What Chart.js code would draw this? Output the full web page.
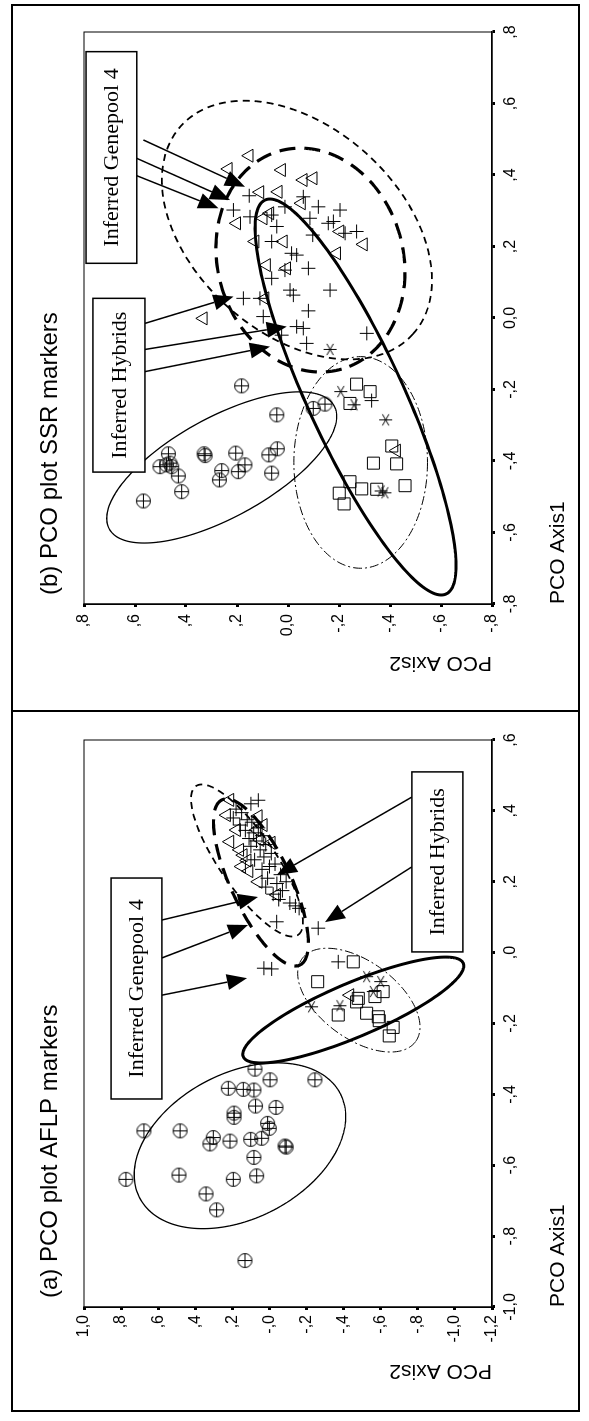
<!DOCTYPE html>
<html>
<head>
<meta charset="utf-8">
<script src="https://cdn.jsdelivr.net/npm/chart.js@4.4.0/dist/chart.umd.min.js"></script>
<style>
html, body { margin: 0; padding: 0; background: #fff; }
body { width: 589px; height: 1421px; overflow: hidden; position: relative; }
#land { position: absolute; left: 0; top: 0; width: 1421px; height: 589px;
        transform-origin: 0 0; transform: translate(0, 1421px) rotate(-90deg); background: #fff; }
.pane { position: absolute; top: 0; }
#frame { position: absolute; left: 9px; top: 11px; width: 1408px; height: 569px;
         border: 2px solid #000; box-sizing: border-box; }
#divider { position: absolute; left: 709px; top: 11px; width: 2px; height: 569px; background: #000; }
</style>
</head>
<body>
<div id="land">
  <canvas id="chartA" class="pane" style="left:0" width="710" height="589"></canvas>
  <canvas id="chartB" class="pane" style="left:710px" width="711" height="589"></canvas>
  <div id="frame"></div>
  <div id="divider"></div>
</div>
<script>
// ---- tick values and labels ----
const xTicksA = [-1.0, -0.8, -0.6, -0.4, -0.2, 0, 0.2, 0.4, 0.6];
const xLabelsA = ['-1,0', '-,8', '-,6', '-,4', '-,2', ',0', ',2', ',4', ',6'];
const yTicksA = [-1.2, -1.0, -0.8, -0.6, -0.4, -0.2, 0, 0.2, 0.4, 0.6, 0.8, 1.0];
const yLabelsA = ['-1,2', '-1,0', '-,8', '-,6', '-,4', '-,2', '-,0', ',2', ',4', ',6', ',8', '1,0'];
const xTicksB = [-0.8, -0.6, -0.4, -0.2, 0, 0.2, 0.4, 0.6, 0.8];
const xLabelsB = ['-,8', '-,6', '-,4', '-,2', '0,0', ',2', ',4', ',6', ',8'];
const yTicksB = [-0.8, -0.6, -0.4, -0.2, 0, 0.2, 0.4, 0.6, 0.8];
const yLabelsB = ['-,8', '-,6', '-,4', '-,2', '0,0', ',2', ',4', ',6', ',8'];

// ---- (a) AFLP: [PCO Axis1, PCO Axis2] ----
const aflpCircle = [[-0.329,0.078],[-0.359,-0.003],[-0.359,-0.245],[-0.383,0.222],[-0.386,0.141],[-0.388,0.084],
  [-0.433,0.075],[-0.437,-0.035],[-0.453,0.191],[-0.465,0.191],[-0.482,0.010],[-0.496,0.001],[-0.503,0.677],
  [-0.503,0.482],[-0.522,0.303],[-0.540,0.321],[-0.532,0.213],[-0.527,0.101],[-0.524,0.042],[-0.546,-0.084],
  [-0.549,-0.090],[-0.578,0.084],[-0.640,0.774],[-0.628,0.488],[-0.640,0.195],[-0.630,0.069],[-0.681,0.342],
  [-0.726,0.285],[-0.869,0.132]];
const aflpSquare = [[-0.026,-0.452],[-0.082,-0.260],[-0.110,-0.613],[-0.124,-0.569],[-0.129,-0.479],[-0.176,-0.371],
  [-0.139,-0.470],[-0.171,-0.524],[-0.181,-0.587],[-0.192,-0.592],[-0.211,-0.667],[-0.235,-0.646]];
const aflpStar = [[-0.068,-0.524],[-0.153,-0.227],[-0.150,-0.380],[-0.082,-0.600],[-0.110,-0.560]];
const aflpCross = [[0.405,0.180],[0.395,0.150],[0.380,0.195],[0.375,0.120],[0.368,0.095],[0.360,0.160],[0.352,0.060],
  [0.345,0.130],[0.338,0.085],[0.330,0.040],[0.322,0.110],[0.315,0.070],[0.305,0.020],[0.300,0.100],[0.290,0.050],
  [0.280,-0.010],[0.270,0.030],[0.262,0.080],[0.250,-0.030],[0.243,0.000],[0.235,0.040],[0.220,-0.060],[0.210,0.010],
  [0.200,-0.090],[0.195,-0.040],[0.185,0.020],[0.175,-0.070],[0.165,-0.020],[0.150,-0.050],[0.140,-0.110],
  [0.132,-0.140],[0.125,-0.160],[0.087,-0.039],[0.069,-0.263],[-0.044,0.030],[-0.046,-0.012],[-0.026,-0.371],
  [0.420,0.100],[0.430,0.060]];
const aflpTriangle = [[0.431,0.213],[0.388,0.231],[0.346,0.177],[0.313,0.213],[0.290,0.160],[0.275,0.141],[0.243,0.150],
  [0.318,0.051],[0.360,0.033],[0.310,-0.010],[0.346,0.069],[0.200,0.060],[0.163,-0.039],[0.230,0.110],[0.385,0.060],
  [0.260,0.120],[-0.120,-0.434]];

// ---- (b) SSR ----
const ssrCircle = [[-0.190,0.182],[-0.271,0.044],[-0.253,-0.099],[-0.241,-0.145],[-0.380,0.469],[-0.406,0.463],
  [-0.411,0.476],[-0.416,0.502],[-0.416,0.456],[-0.442,0.430],[-0.486,0.417],[-0.512,0.567],[-0.380,0.329],
  [-0.385,0.325],[-0.427,0.260],[-0.453,0.269],[-0.378,0.205],[-0.430,0.195],[-0.411,0.169],[-0.383,0.075],
  [-0.366,0.042],[-0.434,0.064]];
const ssrSquare = [[-0.185,-0.269],[-0.206,-0.322],[-0.239,-0.243],[-0.358,-0.407],[-0.408,-0.426],[-0.406,-0.335],
  [-0.469,-0.459],[-0.458,-0.243],[-0.478,-0.289],[-0.479,-0.348],[-0.490,-0.201],[-0.520,-0.220]];
const ssrStar = [[-0.088,-0.165],[-0.206,-0.207],[-0.243,-0.259],[-0.285,-0.383],[-0.484,-0.365],[-0.489,-0.380]];
const ssrCross = [[0.020,-0.080],[0.004,0.097],[-0.024,-0.034],[-0.029,-0.060],[-0.048,0.025],[-0.071,-0.073],
  [-0.043,-0.309],[-0.231,-0.328],[0.342,0.152],[0.302,0.214],[0.283,0.149],[0.288,0.064],[0.311,0.012],
  [0.339,-0.060],[0.311,-0.119],[0.302,-0.204],[0.265,-0.158],[0.270,-0.178],[0.279,-0.086],[0.256,0.044],
  [0.232,-0.097],[0.237,-0.224],[0.242,-0.269],[0.214,0.064],[0.181,-0.014],[0.176,-0.034],[0.139,-0.080],
  [0.134,0.012],[0.111,0.064],[0.078,-0.008],[0.064,-0.021],[0.055,0.175],[0.055,0.110],[0.078,-0.165]];
const ssrTriangle = [[0.454,0.152],[0.417,0.234],[0.414,0.025],[0.386,-0.060],[0.391,-0.099],[0.352,0.110],
  [0.353,0.038],[0.321,-0.053],[0.265,0.201],[0.279,0.097],[0.293,0.071],[0.242,-0.204],[0.206,-0.296],
  [0.181,-0.191],[0.214,0.129],[0.214,0.018],[0.139,0.005],[0.148,0.084],[0.055,0.090],[-0.001,0.332],
  [-0.371,-0.426]];

// ---- ellipses: centre, end of one half-axis, end of the other (data units) ----
const aflpEllipses = [
  { style: 'thin', c: [-0.545, 0.159], a: [-0.398, -0.382], b: [-0.363, 0.339] },
  { style: 'thick', c: [-0.162, -0.452], a: [-0.030, -1.045], b: [-0.232, -0.509] },
  { style: 'dashdot', c: [-0.134, -0.482], a: [-0.251, -0.788], b: [-0.222, -0.359] },
  { style: 'dash', c: [0.260, 0.121], a: [0.050, -0.154], b: [0.304, -0.003] },
  { style: 'longdash', c: [0.198, 0.046], a: [-0.035, -0.164], b: [0.234, -0.100] }
];
const ssrEllipses = [
  { style: 'thin', c: [-0.418, 0.260], a: [-0.246, -0.181], b: [-0.541, 0.166] },
  { style: 'dashdot', c: [-0.404, -0.285], a: [-0.404, -0.547], b: [-0.700, -0.285] },
  { style: 'thick', c: [-0.221, -0.265], a: [-0.772, -0.620], b: [-0.165, -0.436] },
  { style: 'dash', c: [0.246, -0.035], a: [-0.045, -0.490], b: [0.031, 0.236] },
  { style: 'longdash', c: [0.162, -0.088], a: [-0.143, -0.210], b: [0.091, 0.262] }
];

// ---- arrows and labelled boxes ----
const aflpArrows = [
  [[0.092, 0.580], [0.157, 0.062]], [[-0.015, 0.580], [0.078, 0.116]], [[-0.120, 0.580], [-0.072, 0.121]],
  [[0.439, -0.768], [0.219, -0.040]], [[0.242, -0.768], [0.086, -0.299]]
];
const ssrArrows = [
  [[0.498, 0.567], [0.367, 0.169]], [[0.451, 0.607], [0.330, 0.227]], [[0.400, 0.600], [0.307, 0.273]],
  [[-0.015, 0.561], [0.060, 0.214]], [[-0.088, 0.561], [-0.024, 0.005]], [[-0.150, 0.561], [-0.080, 0.071]]
];
const aflpBoxes = [
  { text: 'Inferred Genepool 4', x: [-0.413, 0.2105], y: [0.580, 0.854] },
  { text: 'Inferred Hybrids', x: [0.002, 0.510], y: [-1.043, -0.768] }
];
const ssrBoxes = [
  { text: 'Inferred Genepool 4', x: [0.153, 0.745], y: [0.593, 0.792] },
  { text: 'Inferred Hybrids', x: [-0.431, 0.055], y: [0.561, 0.765] }
];

const lineStyles = {
  thin: { w: 1.3, dash: [] },
  thick: { w: 3, dash: [] },
  dash: { w: 1.8, dash: [7, 5] },
  longdash: { w: 3.2, dash: [16, 9] },
  dashdot: { w: 1, dash: [9, 3, 2, 3] }
};

const SANS = '"Liberation Sans", Arial, sans-serif';
const SERIF = '"Liberation Serif", "Times New Roman", serif';

// custom markers
function marker(size, draw) {
  const c = document.createElement('canvas');
  c.width = c.height = size;
  const g = c.getContext('2d');
  g.strokeStyle = '#000';
  g.lineWidth = 1;
  draw(g, size / 2);
  return c;
}
const circlePlus = marker(17, (g, h) => {
  g.beginPath();
  g.arc(h, h, 7, 0, Math.PI * 2);
  g.moveTo(h - 7, h); g.lineTo(h + 7, h);
  g.moveTo(h, h - 7); g.lineTo(h, h + 7);
  g.stroke();
});
const asterisk = marker(15, (g, h) => {
  g.beginPath();
  [90, 30, -30].forEach(d => {
    const r = d * Math.PI / 180, dx = Math.cos(r) * 6.5, dy = Math.sin(r) * 6.5;
    g.moveTo(h - dx, h - dy); g.lineTo(h + dx, h + dy);
  });
  g.stroke();
});

const pts = arr => arr.map(p => ({ x: p[0], y: p[1] }));
function sets(circ, sq, star, cross, tri) {
  const base = { borderColor: '#000', backgroundColor: 'rgba(0,0,0,0)', pointBorderWidth: 1, showLine: false };
  return [
    { ...base, data: pts(circ), pointStyle: circlePlus },
    { ...base, data: pts(sq), pointStyle: 'rect', pointRadius: 8.5 },
    { ...base, data: pts(star), pointStyle: asterisk },
    { ...base, data: pts(cross), pointStyle: 'cross', pointRadius: 7 },
    { ...base, data: pts(tri), pointStyle: 'triangle', pointRadius: 7.5 }
  ];
}

function axes(xT, xL, yT, yL, yWidth, yPad, yTitlePad) {
  const grid = { drawOnChartArea: false, drawTicks: true, tickLength: 3, tickWidth: 3, tickColor: '#000', color: '#000' };
  const tickFont = { family: SANS, size: 16 };
  const titleFont = { family: SANS, size: 21 };
  return {
    x: {
      type: 'linear', min: xT[0], max: xT[xT.length - 1],
      afterBuildTicks: s => { s.ticks = xT.map(v => ({ value: v })); },
      afterFit: s => { s.height = 97; },
      ticks: { callback: (v, i) => xL[i], color: '#000', font: tickFont, padding: 6, maxRotation: 0, autoSkip: false },
      grid: grid, border: { color: '#000', width: 1.5 },
      title: { display: true, text: 'PCO Axis1', align: 'start', color: '#000', font: titleFont, padding: { top: 0, bottom: 18 } }
    },
    y: {
      type: 'linear', min: yT[0], max: yT[yT.length - 1],
      afterBuildTicks: s => { s.ticks = yT.map(v => ({ value: v })); },
      afterFit: s => { s.width = yWidth; },
      ticks: { callback: (v, i) => yL[i], color: '#000', font: tickFont, padding: yPad, autoSkip: false },
      grid: grid, border: { color: '#000', width: 1.5 },
      title: { display: true, text: 'PCO Axis2', align: 'start', color: '#000', font: titleFont, padding: { top: yTitlePad, bottom: 0 } }
    }
  };
}

const overlay = {
  id: 'overlay',
  afterDatasetsDraw(chart, args, opt) {
    const { ctx, chartArea: ca, scales: { x, y } } = chart;
    const px = p => [x.getPixelForValue(p[0]), y.getPixelForValue(p[1])];
    ctx.save();
    ctx.strokeStyle = '#000';
    ctx.fillStyle = '#000';
    ctx.lineWidth = 1;
    ctx.strokeRect(ca.left, ca.top, ca.width, ca.height);

    opt.ellipses.forEach(e => {
      const st = lineStyles[e.style];
      ctx.beginPath();
      for (let k = 0; k <= 180; k++) {
        const t = k / 180 * Math.PI * 2, c = Math.cos(t), s = Math.sin(t);
        const p = px([e.c[0] + (e.a[0] - e.c[0]) * c + (e.b[0] - e.c[0]) * s,
                      e.c[1] + (e.a[1] - e.c[1]) * c + (e.b[1] - e.c[1]) * s]);
        if (k) ctx.lineTo(p[0], p[1]); else ctx.moveTo(p[0], p[1]);
      }
      ctx.closePath();
      ctx.lineWidth = st.w;
      ctx.setLineDash(st.dash);
      ctx.stroke();
    });
    ctx.setLineDash([]);

    opt.arrows.forEach(([from, to]) => {
      const a = px(from), b = px(to);
      const ang = Math.atan2(b[1] - a[1], b[0] - a[0]);
      const len = 20, hw = 8;
      const bx = b[0] - Math.cos(ang) * len, by = b[1] - Math.sin(ang) * len;
      ctx.lineWidth = 1.5;
      ctx.beginPath(); ctx.moveTo(a[0], a[1]); ctx.lineTo(bx, by); ctx.stroke();
      ctx.beginPath();
      ctx.moveTo(b[0], b[1]);
      ctx.lineTo(bx + Math.sin(ang) * hw, by - Math.cos(ang) * hw);
      ctx.lineTo(bx - Math.sin(ang) * hw, by + Math.cos(ang) * hw);
      ctx.closePath(); ctx.fill();
    });

    opt.boxes.forEach(bx => {
      const l = x.getPixelForValue(bx.x[0]), r = x.getPixelForValue(bx.x[1]);
      const t = y.getPixelForValue(bx.y[1]), btm = y.getPixelForValue(bx.y[0]);
      ctx.fillStyle = '#fff';
      ctx.fillRect(l, t, r - l, btm - t);
      ctx.lineWidth = 1.5;
      ctx.strokeRect(l, t, r - l, btm - t);
      ctx.fillStyle = '#000';
      ctx.font = '22px ' + SERIF;
      ctx.textAlign = 'center';
      ctx.textBaseline = 'middle';
      ctx.fillText(bx.text, (l + r) / 2, (t + btm) / 2 + 1);
    });

    ctx.font = '24px ' + SANS;
    ctx.textAlign = 'left';
    ctx.textBaseline = 'middle';
    ctx.fillText(opt.title, ca.left + 9, 50);
    ctx.restore();
  }
};

function makeChart(id, ds, scales, padRight, extra) {
  return new Chart(document.getElementById(id), {
    type: 'scatter',
    data: { datasets: ds },
    options: {
      responsive: false,
      animation: false,
      events: [],
      layout: { padding: { left: 0, right: padRight, top: 84, bottom: 0 } },
      scales: scales,
      plugins: { legend: { display: false }, tooltip: { enabled: false }, overlay: extra }
    },
    plugins: [overlay]
  });
}

makeChart('chartA', sets(aflpCircle, aflpSquare, aflpStar, aflpCross, aflpTriangle),
  axes(xTicksA, xLabelsA, yTicksA, yLabelsA, 114, 5, 38), 29,
  { title: '(a) PCO plot AFLP markers', ellipses: aflpEllipses, arrows: aflpArrows, boxes: aflpBoxes });

makeChart('chartB', sets(ssrCircle, ssrSquare, ssrStar, ssrCross, ssrTriangle),
  axes(xTicksB, xLabelsB, yTicksB, yLabelsB, 107, 7, 36), 32,
  { title: '(b) PCO plot SSR markers', ellipses: ssrEllipses, arrows: ssrArrows, boxes: ssrBoxes });
</script>
</body>
</html>
